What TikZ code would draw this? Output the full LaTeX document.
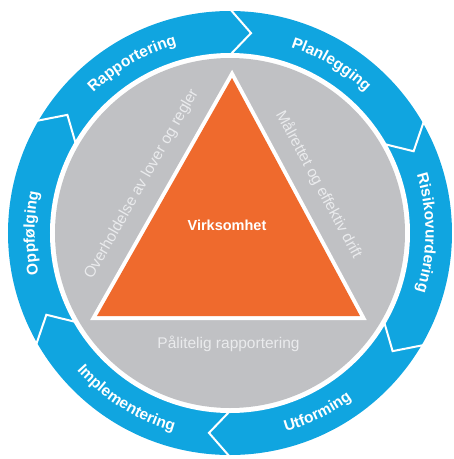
\documentclass[tikz,border=0pt]{standalone}
\usepackage{fontspec}
\setmainfont{Liberation Sans}
\usetikzlibrary{
  positioning,
  calc,
  decorations.text
}
\definecolor{cycleblue}{RGB}{16,165,224}
\definecolor{discgray}{RGB}{192,193,196}
\definecolor{coreorange}{RGB}{239,106,45}
\definecolor{labelgray}{RGB}{234,235,237}
\newcommand\ringfont{\fontsize{15.5}{18}\selectfont\bfseries\color{white}}

\begin{document}
\begin{tikzpicture}[
  font=\fontsize{15.5}{18}\selectfont,
  ringtext/.style={decorate, decoration={text along path, text align=center}},
  edgetext/.style={sloped, midway, anchor=center, inner sep=0pt, text=labelgray},
  chevron/.style={draw=white, line width=2pt, line join=miter},
  core/.style={text=white, font=\fontsize{14.5}{17}\selectfont\bfseries}
]
\useasboundingbox (-230pt,-226pt) rectangle (224pt,233pt);

% Ring and disc
\fill[cycleblue] (0,0) circle[radius=222pt];
\fill[white] (0,0) circle[radius=180pt];
\fill[discgray] (0,0) circle[radius=175pt];

% Step borders
\foreach \a in {90,30,-30,-90,-150,150}
  \draw[chevron] (\a:224pt) -- (\a-6:201pt) -- (\a:178pt);

% Steps
\path[ringtext, decoration={text={|\ringfont|Rapportering}}] (160:195.5pt) arc[start angle=160, end angle=80, radius=195.5pt];
\path[ringtext, decoration={text={|\ringfont|Planlegging}}] (99:195.5pt) arc[start angle=99, end angle=19, radius=195.5pt];
\path[ringtext, decoration={text={|\ringfont|Risikovurdering}}] (45:195.5pt) arc[start angle=45, end angle=-45, radius=195.5pt];
\path[ringtext, decoration={text={|\ringfont|Utforming}}] (-104:206pt) arc[start angle=-104, end angle=-24, radius=206pt];
\path[ringtext, decoration={text={|\ringfont|Implementering}}] (-167:206pt) arc[start angle=-167, end angle=-77, radius=206pt];
\path[ringtext, decoration={text={|\ringfont|Oppfølging}}] (220:195.5pt) arc[start angle=220, end angle=140, radius=195.5pt];

% Triangle
\coordinate (apex) at (2pt,155pt);
\coordinate (left) at (-133pt,-83pt);
\coordinate (right) at (130pt,-83pt);
\draw[white, line width=8pt, line join=miter] (left) -- (apex) -- (right) -- cycle;
\fill[coreorange] (left) -- (apex) -- (right) -- cycle;

% Nodes
\node[core] (virksomhet) at (-3pt,8pt) {Virksomhet};
\path (left) -- node[edgetext, yshift=26pt] (lover) {Overholdelse av lover og regler} (apex);
\path (apex) -- node[edgetext, yshift=26pt] (drift) {Målrettet og effektiv drift} (right);
\path (left) -- node[edgetext, yshift=-28pt] (rapport) {Pålitelig rapportering} (right);

\end{tikzpicture}
\end{document}
